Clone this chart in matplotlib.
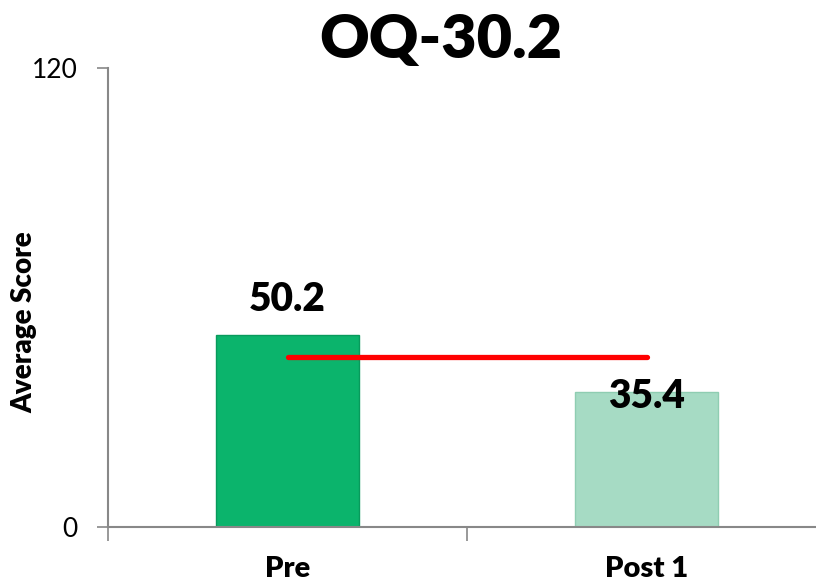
import matplotlib
matplotlib.use("Agg")
import matplotlib.pyplot as plt

categories = ["Pre", "Post 1"]
values = [50.2, 35.4]
value_labels = ["50.2", "35.4"]
bar_colors = ["#0bb46c", "#a6dbc4"]
ref_value = 44.4
title = "OQ-30.2"
ylabel = "Average Score"

plt.rcParams['font.family'] = ['Lato', 'DejaVu Sans']

fig = plt.figure(figsize=(8.16, 5.82), dpi=100)
ax = fig.add_axes([108/816, 55/582, 718/816, 459/582])

x = list(range(len(categories)))
ax.bar(x, values, width=0.4, color=bar_colors, edgecolor=["#089a5c", "#8fcdb2"], linewidth=1.0, zorder=2)
ax.plot([x[0], x[1]], [ref_value, ref_value], color="#ff0000", linewidth=3.8,
        solid_capstyle="round", zorder=3)

ax.text(x[0], values[0] + 9.4, value_labels[0], ha="center", va="center",
        fontsize=28, fontweight="heavy", zorder=4)
ax.text(x[1], values[1] - 1.4, value_labels[1], ha="center", va="center",
        fontsize=28, fontweight="heavy", zorder=4)

ax.set_xlim(-0.5, 1.5)
ax.set_ylim(0, 120)
ax.set_yticks([0, 120])
ax.set_yticklabels(["0", "120"], fontsize=19)
ax.set_xticks([-0.5, 0.5, 1.5])
ax.set_xticklabels([])
ax.tick_params(axis="x", length=10, color="#888888", width=1.2, direction="out")
ax.tick_params(axis="y", length=8, color="#888888", width=1.2, direction="out", pad=14)
for lbl, xi in zip(categories, x):
    ax.text(xi, -0.092, lbl, transform=ax.get_xaxis_transform(), ha="center", va="center",
            fontsize=21, fontweight="heavy")

for s in ["top", "right"]:
    ax.spines[s].set_visible(False)
for s in ["left", "bottom"]:
    ax.spines[s].set_color("#888888")
    ax.spines[s].set_linewidth(1.5)

fig.text(24/816, 1 - 322/582, ylabel, rotation=90, ha="center", va="center",
         fontsize=20, fontweight="heavy")
fig.text(441/816, 1 - 40/582, title, ha="center", va="center",
         fontsize=44, fontweight="heavy")

fig.savefig("out.png", dpi=100)
